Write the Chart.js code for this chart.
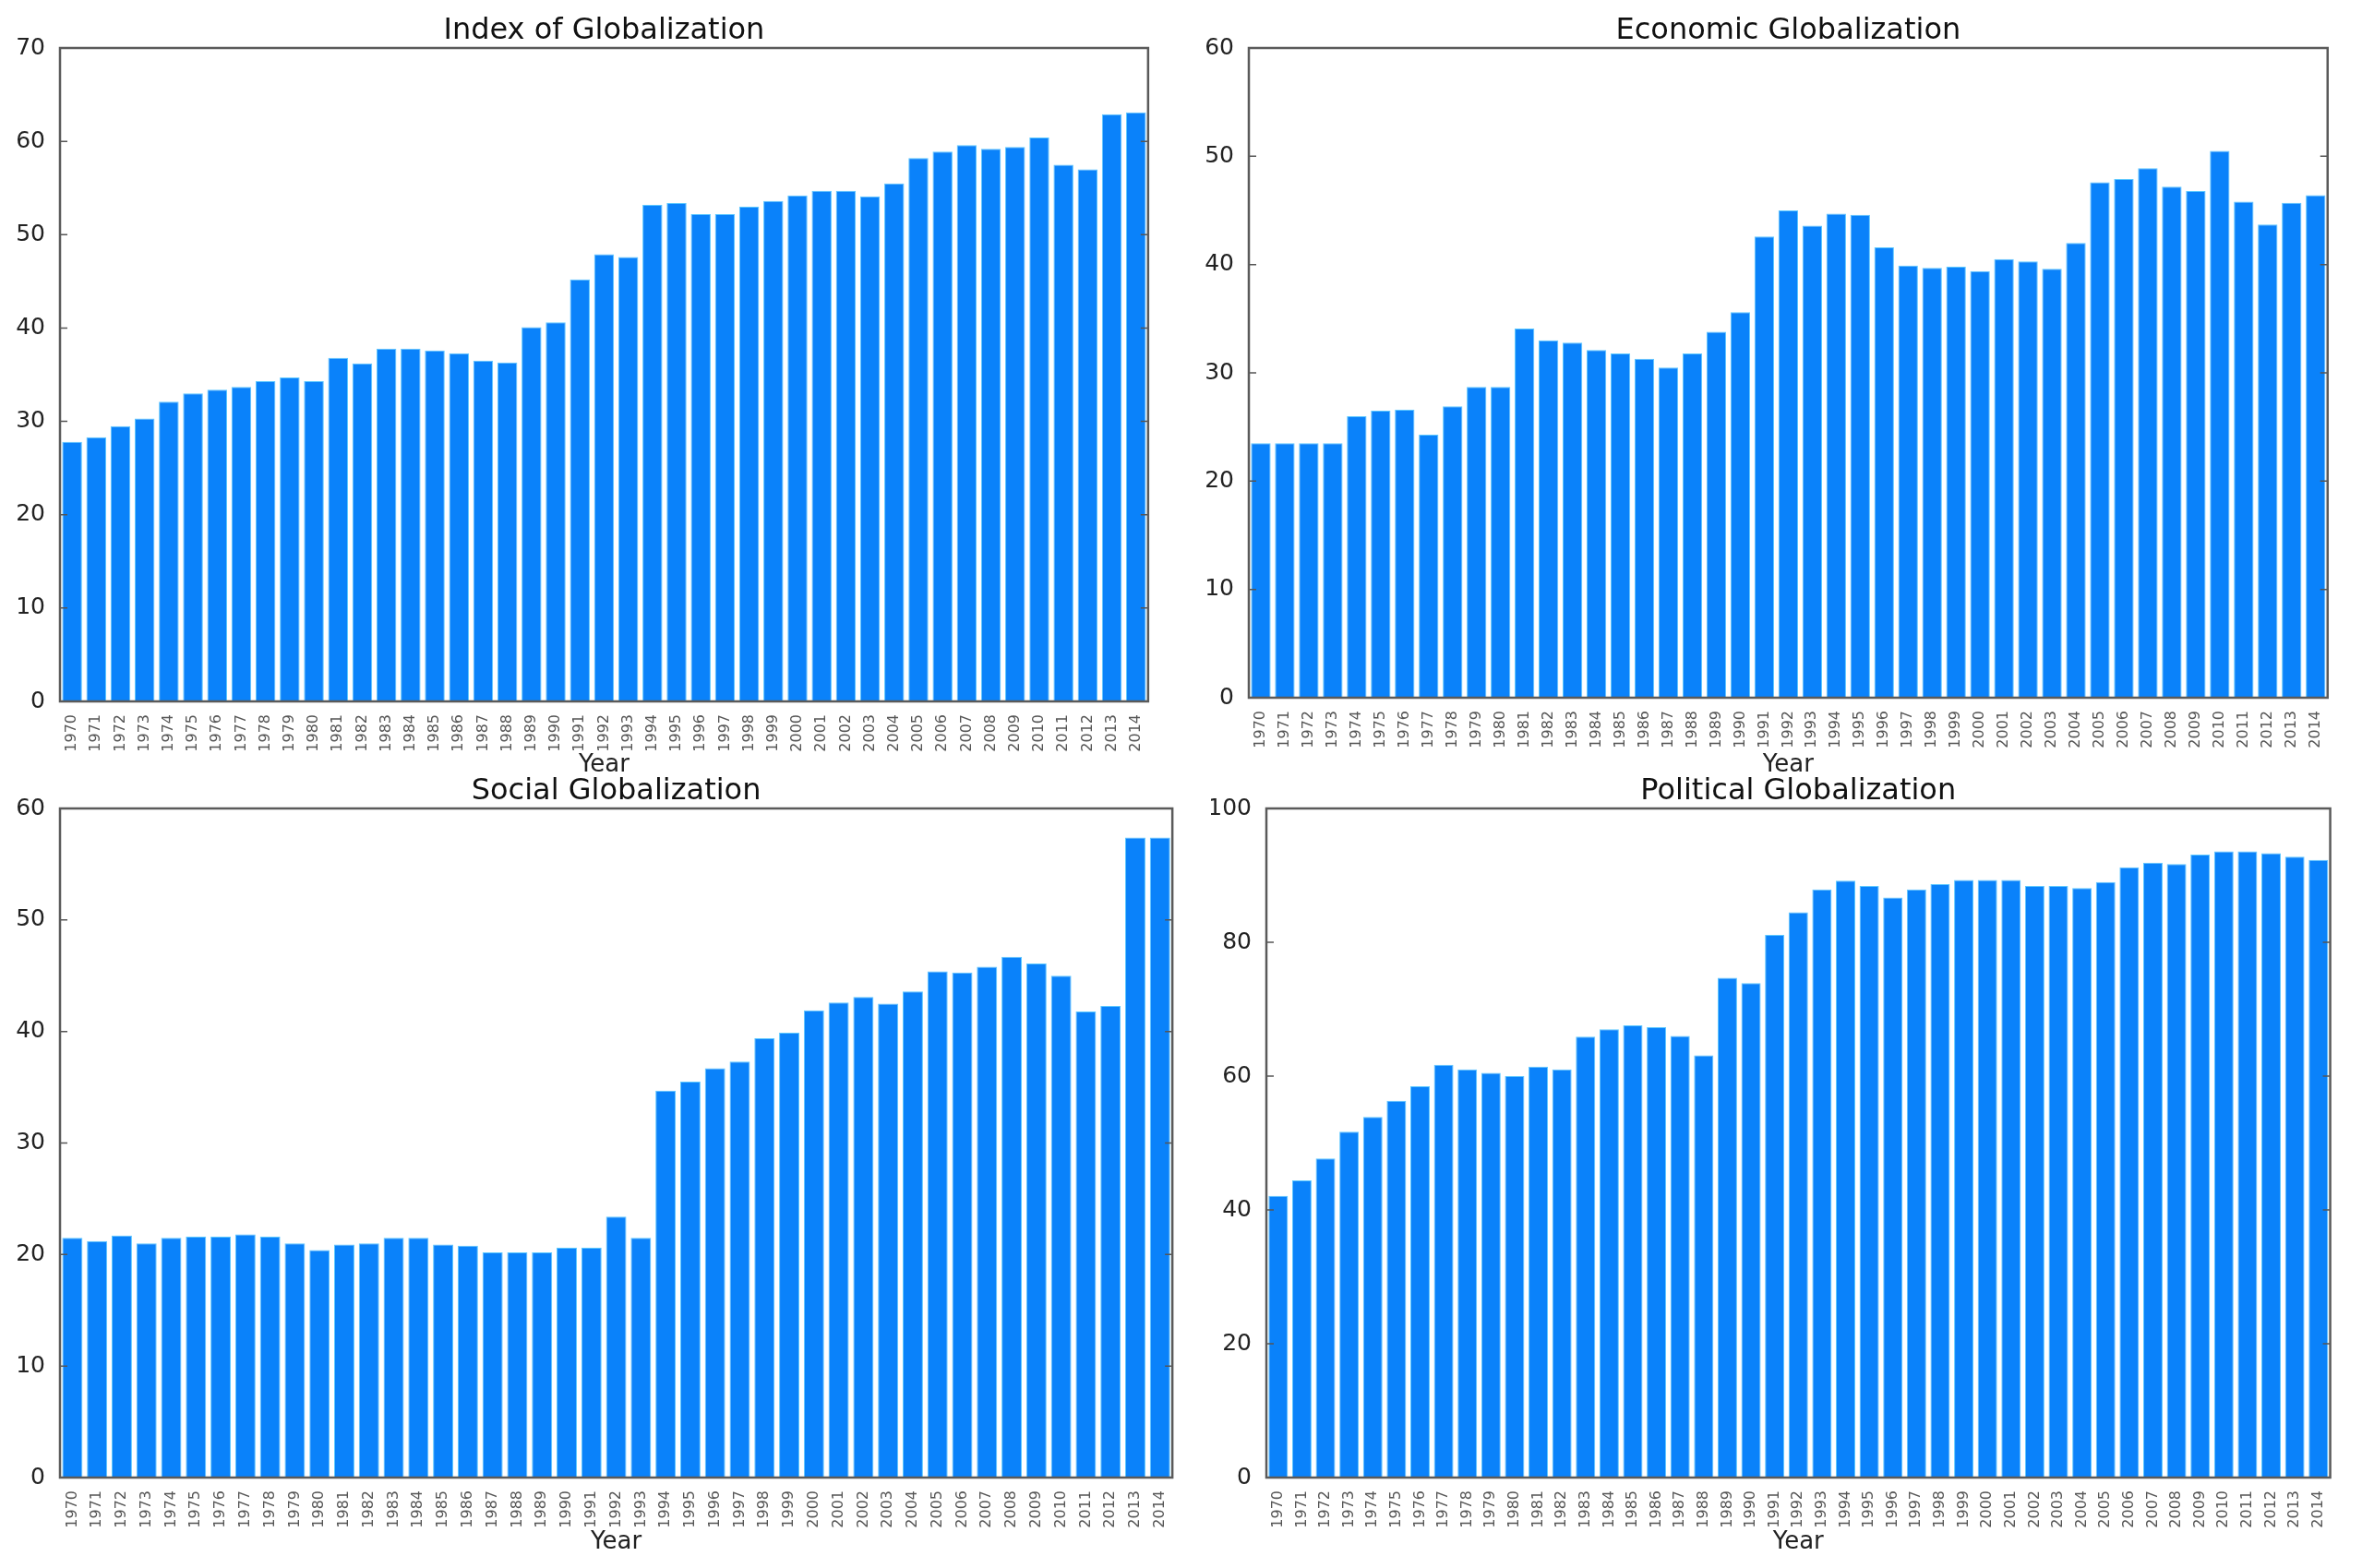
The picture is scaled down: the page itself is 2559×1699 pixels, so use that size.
<!DOCTYPE html>
<html><head><meta charset="utf-8">
<script src="https://cdn.jsdelivr.net/npm/chart.js@4.4.1/dist/chart.umd.min.js"></script>
<style>
html,body{margin:0;padding:0;background:#fff;overflow:hidden;width:2559px;height:1699px}
.p{position:absolute}
</style></head><body>
<div class="p" id="w1"><canvas id="c1"></canvas></div>
<div class="p" id="w2"><canvas id="c2"></canvas></div>
<div class="p" id="w3"><canvas id="c3"></canvas></div>
<div class="p" id="w4"><canvas id="c4"></canvas></div>
<script>
const years=["1970","1971","1972","1973","1974","1975","1976","1977","1978","1979","1980","1981","1982","1983","1984","1985","1986","1987","1988","1989","1990","1991","1992","1993","1994","1995","1996","1997","1998","1999","2000","2001","2002","2003","2004","2005","2006","2007","2008","2009","2010","2011","2012","2013","2014"];
const indexVals=[27.8,28.3,29.5,30.3,32.1,33.0,33.4,33.7,34.3,34.7,34.3,36.8,36.2,37.8,37.8,37.6,37.3,36.5,36.3,40.1,40.6,45.2,47.9,47.6,53.2,53.4,52.2,52.2,53.0,53.6,54.2,54.7,54.7,54.1,55.5,58.2,58.9,59.6,59.2,59.4,60.4,57.5,57.0,62.9,63.1];
const economicVals=[23.5,23.5,23.5,23.5,26.0,26.5,26.6,24.3,26.9,28.7,28.7,34.1,33.0,32.8,32.1,31.8,31.3,30.5,31.8,33.8,35.6,42.6,45.0,43.6,44.7,44.6,41.6,39.9,39.7,39.8,39.4,40.5,40.3,39.6,42.0,47.6,47.9,48.9,47.2,46.8,50.5,45.8,43.7,45.7,46.4];
const socialVals=[21.5,21.2,21.7,21.0,21.5,21.6,21.6,21.8,21.6,21.0,20.4,20.9,21.0,21.5,21.5,20.9,20.8,20.2,20.2,20.2,20.6,20.6,23.4,21.5,34.7,35.5,36.7,37.3,39.4,39.9,41.9,42.6,43.1,42.5,43.6,45.4,45.3,45.8,46.7,46.1,45.0,41.8,42.3,57.4,57.4];
const politicalVals=[42.1,44.4,47.7,51.7,53.9,56.3,58.5,61.7,61.0,60.5,60.0,61.4,61.0,65.9,67.0,67.6,67.3,66.0,63.1,74.7,73.9,81.1,84.5,87.9,89.2,88.4,86.7,87.9,88.7,89.3,89.3,89.3,88.4,88.4,88.1,89.0,91.2,91.9,91.7,93.1,93.6,93.6,93.3,92.8,92.3];

const panels=[
 {id:"1",title:"Index of Globalization",vals:indexVals,max:70,step:10,x:65,y:52,w:1187,h:708,xh:85},
 {id:"2",title:"Economic Globalization",vals:economicVals,max:60,step:10,x:1353,y:52,w:1177,h:704,xh:89},
 {id:"3",title:"Social Globalization",vals:socialVals,max:60,step:10,x:65,y:876,w:1213,h:725,xh:86},
 {id:"4",title:"Political Globalization",vals:politicalVals,max:100,step:20,x:1372,y:876,w:1161,h:725,xh:86}
];
const YW=60,TOP=60,RP=4;

// frame, inward ticks and the panel title
const frame={id:"frame",afterDatasetsDraw(ch,args,opts){
 const a=ch.chartArea,c=ch.ctx,ys=ch.scales.y;
 c.save();
 c.strokeStyle="#555";c.lineWidth=1.5;
 ys.ticks.forEach(t=>{const py=ys.getPixelForValue(t.value);
  c.beginPath();c.moveTo(a.left,py);c.lineTo(a.left+8,py);c.moveTo(a.right,py);c.lineTo(a.right-8,py);c.stroke();});
 c.lineWidth=2.5;c.strokeStyle="#5a5a5a";
 c.strokeRect(a.left,a.top,a.right-a.left,a.bottom-a.top);
 c.font="32px 'DejaVu Sans'";c.fillStyle="#111";c.textAlign="center";c.textBaseline="alphabetic";
 c.fillText(opts.title,(a.left+a.right)/2,a.top-10);
 c.restore();
}};

panels.forEach(p=>{
 const w=document.getElementById("w"+p.id);
 w.style.left=(p.x-YW)+"px";w.style.top=(p.y-TOP)+"px";
 w.style.width=(p.w+YW+RP)+"px";w.style.height=(TOP+p.h+p.xh)+"px";
 new Chart(document.getElementById("c"+p.id),{
  type:"bar",
  data:{labels:years,datasets:[{data:p.vals,backgroundColor:"#0a82fa",borderColor:"#5cc8ff",borderWidth:1,barPercentage:0.82,categoryPercentage:1}]},
  options:{
   responsive:true,maintainAspectRatio:false,animation:false,devicePixelRatio:1,
   layout:{padding:{top:TOP,right:RP,left:0,bottom:0}},
   plugins:{legend:{display:false},tooltip:{enabled:false},frame:{title:p.title}},
   scales:{
    x:{grid:{display:false},border:{display:false},
     ticks:{autoSkip:false,maxRotation:90,minRotation:90,padding:6,color:"#555",font:{family:"DejaVu Sans",size:16}},
     title:{display:true,text:"Year",color:"#222",font:{family:"DejaVu Sans",size:26},padding:0},
     afterFit:s=>{s.height=p.xh;}},
    y:{min:0,max:p.max,grid:{display:false},border:{display:false},
     ticks:{stepSize:p.step,padding:8,color:"#222",font:{family:"DejaVu Sans",size:25}},
     afterFit:s=>{s.width=YW;}}
   }
  },
  plugins:[frame]
 });
});
</script>
</body></html>
